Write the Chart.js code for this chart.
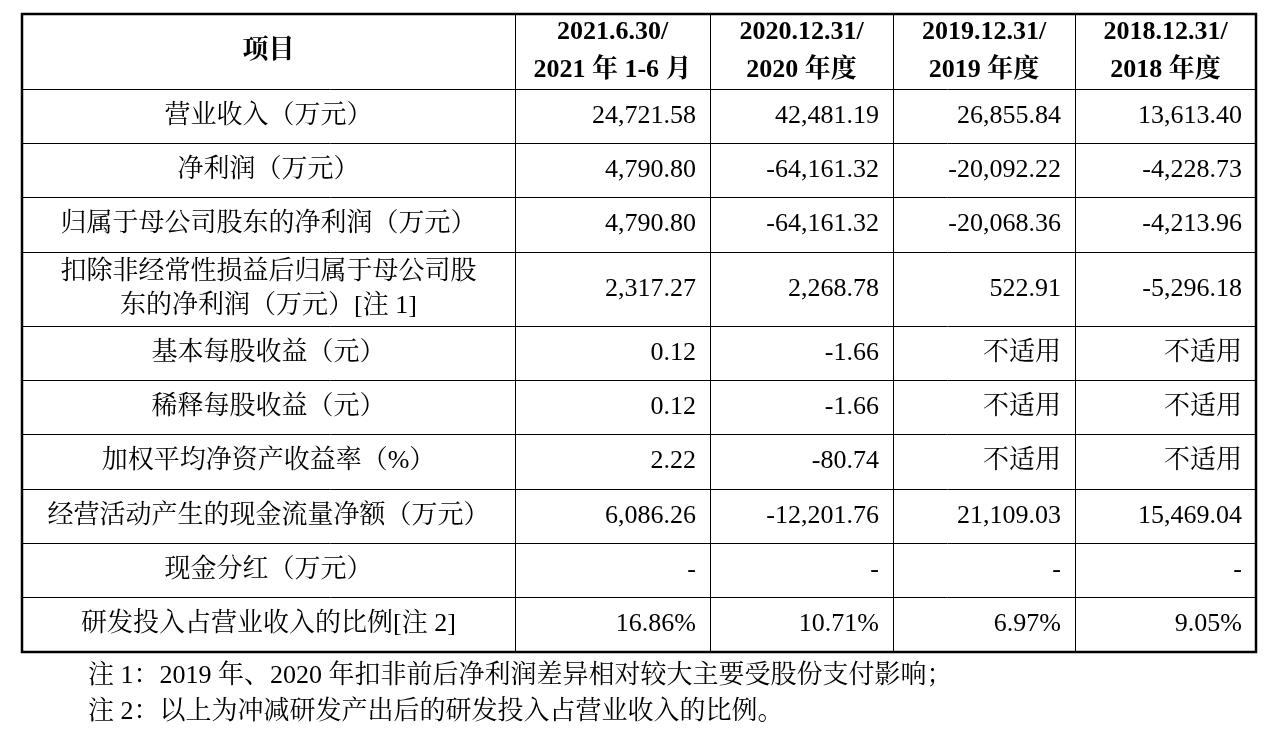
<!DOCTYPE html>
<html><head><meta charset="utf-8">
<script src="https://cdn.jsdelivr.net/npm/chart.js@4"></script>
<style>html,body{margin:0;padding:0;background:#fff}#w{width:1266px;height:732px}</style>
</head><body><div id="w"><canvas id="c"></canvas></div>
<script>
const headers = [["项目"],["2021.6.30/","2021 年 1-6 月"],["2020.12.31/","2020 年度"],["2019.12.31/","2019 年度"],["2018.12.31/","2018 年度"]];
const items = [["营业收入（万元）"],["净利润（万元）"],["归属于母公司股东的净利润（万元）"],["扣除非经常性损益后归属于母公司股","东的净利润（万元）[注 1]"],["基本每股收益（元）"],["稀释每股收益（元）"],["加权平均净资产收益率（%）"],["经营活动产生的现金流量净额（万元）"],["现金分红（万元）"],["研发投入占营业收入的比例[注 2]"]];
const col2021H1 = ["24,721.58","4,790.80","4,790.80","2,317.27","0.12","0.12","2.22","6,086.26","-","16.86%"];
const col2020 = ["42,481.19","-64,161.32","-64,161.32","2,268.78","-1.66","-1.66","-80.74","-12,201.76","-","10.71%"];
const col2019 = ["26,855.84","-20,092.22","-20,068.36","522.91","不适用","不适用","不适用","21,109.03","-","6.97%"];
const col2018 = ["13,613.40","-4,228.73","-4,213.96","-5,296.18","不适用","不适用","不适用","15,469.04","-","9.05%"];
const notes = ["注 1：2019 年、2020 年扣非前后净利润差异相对较大主要受股份支付影响；","注 2：以上为冲减研发产出后的研发投入占营业收入的比例。"];
const colW = [493,195,183,182,181];
const rowH = [75,54,54,55,74,54,54,55,54,54,55];
const colB=[0]; colW.forEach(w=>colB.push(colB[colB.length-1]+w));
const rowB=[0]; rowH.forEach(h=>rowB.push(rowB[rowB.length-1]+h));
const cols=[col2021H1,col2020,col2019,col2018];
const CJK='"Liberation Serif","Noto Serif CJK SC","Noto Sans CJK SC",serif';
const tablePlugin={id:'tbl',afterDraw(ch){
 const c=ch.ctx,X=ch.scales.x,Y=ch.scales.y;
 const px=v=>X.getPixelForValue(v),py=v=>Y.getPixelForValue(v);
 c.save();c.fillStyle='#000';c.strokeStyle='#000';
 c.lineWidth=1;
 colB.forEach(v=>{c.beginPath();c.moveTo(Math.round(px(v))+.5,py(0));c.lineTo(Math.round(px(v))+.5,py(rowB[rowB.length-1]));c.stroke();});
 rowB.forEach(v=>{c.beginPath();c.moveTo(px(0),Math.round(py(v))+.5);c.lineTo(px(colB[colB.length-1]),Math.round(py(v))+.5);c.stroke();});
 c.lineWidth=2.5;c.strokeRect(px(0),py(0),px(colB[5])-px(0),py(rowB[11])-py(0));
 c.textBaseline='middle';
 function cell(lines,ci,ri,bold,align){
  c.font=(bold?'bold 26px ':'26px ')+CJK;
  const cy=(py(rowB[ri])+py(rowB[ri+1]))/2,lh=bold?38:34;
  lines.forEach((t,i)=>{const y=cy+(i-(lines.length-1)/2)*lh;
   if(align==='right'){c.textAlign='right';c.fillText(t,px(colB[ci+1])-14,y);}
   else{c.textAlign='center';c.fillText(t,(px(colB[ci])+px(colB[ci+1]))/2,y);}});
 }
 headers.forEach((h,i)=>cell(h,i,0,true,'center'));
 items.forEach((it,r)=>{cell(it,0,r+1,false,'center');cols.forEach((col,k)=>cell([col[r]],k+1,r+1,false,'right'));});
 c.font='26px '+CJK;c.textAlign='left';
 notes.forEach((n,i)=>c.fillText(n,88,py(rowB[11])+24+i*36));
 c.restore();}};
new Chart(document.getElementById('c'),{type:'scatter',data:{datasets:[{data:[],pointRadius:0}]},
 plugins:[tablePlugin],
 options:{responsive:true,maintainAspectRatio:false,animation:false,
  layout:{padding:{left:22,right:10,top:14,bottom:80}},
  plugins:{legend:{display:false},tooltip:{enabled:false}},
  scales:{x:{type:'linear',display:false,min:0,max:colB[5]},y:{type:'linear',display:false,reverse:true,min:0,max:rowB[11]}}}});
</script></body></html>
